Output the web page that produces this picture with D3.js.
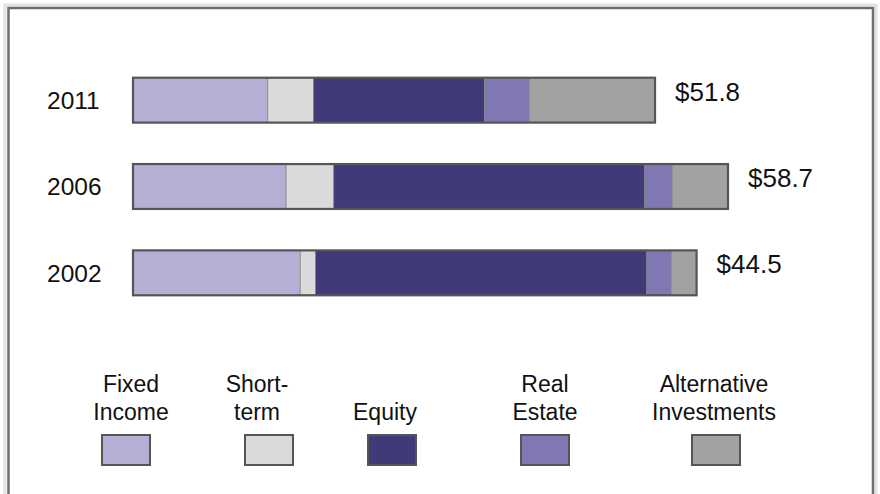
<!DOCTYPE html>
<html><head><meta charset="utf-8">
<script src="https://cdn.jsdelivr.net/npm/d3@7"></script>
<style>html,body{margin:0;padding:0;background:#fff;}svg{display:block;font-family:"Liberation Sans",Arial,sans-serif;}</style>
</head><body>
<script>
const years = ["2011", "2006", "2002"];
const totalLabels = ["$51.8", "$58.7", "$44.5"];
const categories = ["Fixed Income", "Short-term", "Equity", "Real Estate", "Alternative Investments"];
const legendLines = [["Fixed", "Income"], ["Short-", "term"], ["Equity"], ["Real", "Estate"], ["Alternative", "Investments"]];
const colors = ["#b4afd5", "#dadada", "#403a79", "#7f78b2", "#a2a2a2"];
// segment sizes as drawn in the picture
const fixedIncome = [13.3, 15.1, 16.5];
const shortTerm   = [4.5, 4.7, 1.5];
const equity      = [16.9, 30.7, 32.7];
const realEstate  = [4.4, 2.7, 2.4];
const alternative = [12.4, 5.5, 2.5];

const W = 880, H = 494;
const svg = d3.select("body").append("svg").attr("width", W).attr("height", H);

// frame
svg.append("rect").attr("x", 5).attr("y", 5).attr("width", 871).attr("height", 500)
  .attr("fill", "none").attr("stroke", "#e2e2e2").attr("stroke-width", 3);
svg.append("rect").attr("x", 8.5).attr("y", 8).attr("width", 864.5).attr("height", 500)
  .attr("fill", "#fff").attr("stroke", "#6e6e6e").attr("stroke-width", 2.5);

const series = [fixedIncome, shortTerm, equity, realEstate, alternative];
const rows = years.map((y, i) => {
  const r = {year: y};
  categories.forEach((c, j) => r[c] = series[j][i]);
  return r;
});
const stacked = d3.stack().keys(categories)(rows);

const x = d3.scaleLinear().domain([0, 58.7]).range([133, 728]);
const y = d3.scaleBand().domain(years).range([57, 316]).paddingInner(0.48).paddingOuter(0.24);
const color = d3.scaleOrdinal().domain(categories).range(colors);

const g = svg.append("g");
stacked.forEach(layer => {
  g.selectAll(null).data(layer).enter().append("rect")
    .attr("x", d => x(d[0]))
    .attr("y", d => y(d.data.year))
    .attr("width", d => x(d[1]) - x(d[0]))
    .attr("height", y.bandwidth())
    .attr("fill", color(layer.key))
    .attr("stroke", "#8a8a8a").attr("stroke-width", 0.8);
});
// outline
g.selectAll(null).data(rows).enter().append("rect")
  .attr("x", x(0))
  .attr("y", d => y(d.year))
  .attr("width", d => x(d3.sum(categories, c => d[c])) - x(0))
  .attr("height", y.bandwidth())
  .attr("fill", "none").attr("stroke", "#555").attr("stroke-width", 2.2);

// year labels
svg.selectAll(null).data(years).enter().append("text")
  .attr("x", 47).attr("y", d => y(d) + y.bandwidth() / 2)
  .attr("dy", "0.36em").attr("font-size", 24.5).attr("fill", "#111")
  .text(d => d);

// totals
svg.selectAll(null).data(rows).enter().append("text")
  .attr("x", d => x(d3.sum(categories, c => d[c])) + 20)
  .attr("y", (d, i) => y(d.year) + y.bandwidth() / 2 - 9)
  .attr("dy", "0.36em").attr("font-size", 26).attr("fill", "#111")
  .text((d, i) => totalLabels[i]);

// legend
const swatchCenters = [126, 269, 392, 545, 716];
const textCenters = [131, 257, 385, 545, 714];
const lg = svg.append("g");
categories.forEach((c, i) => {
  const lines = legendLines[i];
  lines.forEach((t, k) => {
    lg.append("text").attr("x", textCenters[i]).attr("text-anchor", "middle")
      .attr("y", 420 - (lines.length - 1 - k) * 28)
      .attr("font-size", 23).attr("fill", "#111").text(t);
  });
  lg.append("rect").attr("x", swatchCenters[i] - 24).attr("y", 435).attr("width", 48).attr("height", 30)
    .attr("fill", colors[i]).attr("stroke", "#555").attr("stroke-width", 2);
});
</script>
</body></html>
